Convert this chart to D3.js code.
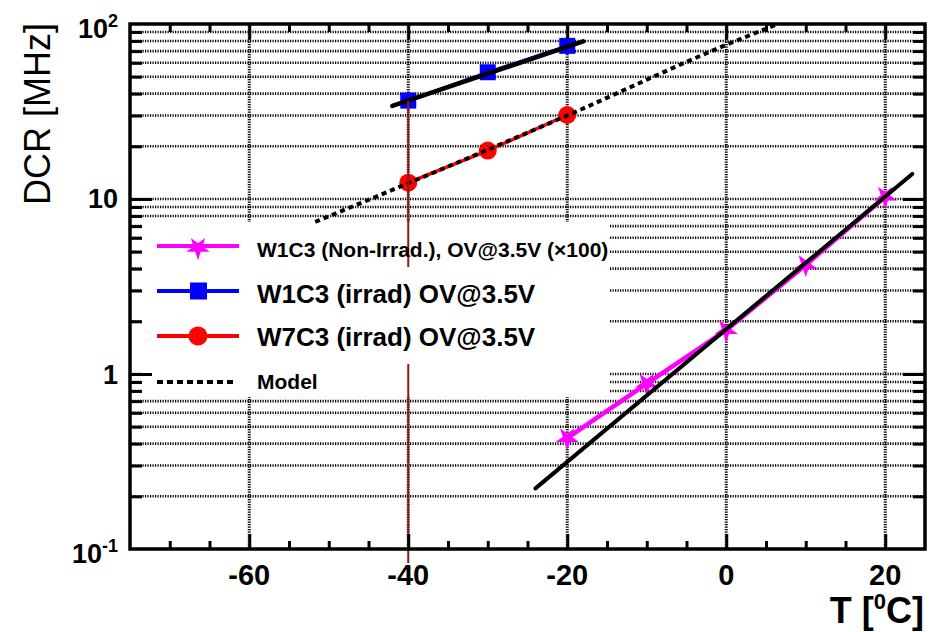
<!DOCTYPE html>
<html>
<head>
<meta charset="utf-8">
<script src="https://cdn.jsdelivr.net/npm/d3@7"></script>
<style>
  html, body { margin: 0; padding: 0; background: #fff; }
  svg { display: block; font-family: "Liberation Sans", Arial, Helvetica, sans-serif; }
</style>
</head>
<body>
<svg id="chart" width="930" height="632"></svg>
<script>
// ---------------- data ----------------
const tempIrrad = [-40, -30, -20];
const dcrW1C3Irrad = [36.5, 53, 75];
const dcrW7C3Irrad = [12.4, 18.9, 30.2];

const tempNonIrrad = [-20, -10, 0, 10, 20];
const dcrW1C3NonIrrad = [0.43, 0.88, 1.78, 4.2, 10.3];

const fitIrradT = [-42, -18];
const fitIrradV = [34, 79.5];

const fitNonIrradT = [-24, 23.4];
const fitNonIrradV = [0.222, 13.9];

const modelT = [-51.7, -40, -20, 0, 6.5];
const modelV = [7.4, 12.3, 30, 76, 100];

const markerLineT = [-40, -40];
const markerLineV = [36.5, 0.083];

const xMajorTicks = [-60, -40, -20, 0, 20];
const xMinorTicks = [-70, -65, -55, -50, -45, -35, -30, -25, -15, -10, -5, 5, 10, 15];
const yMajorTicks = [1, 10];
const yMinorTicks = [0.2,0.3,0.4,0.5,0.6,0.7,0.8,0.9, 2,3,4,5,6,7,8,9, 20,30,40,50,60,70,80,90];
const yTickLabels = [
  {v: 100, base: "10", sup: "2"},
  {v: 10, base: "10", sup: ""},
  {v: 1, base: "1", sup: ""},
  {v: 0.1, base: "10", sup: "-1"}
];
const legendItems = [
  {label: "W1C3 (Non-Irrad.), OV@3.5V (\u00d7100)", color: "#ff00ff", marker: "star", size: 21},
  {label: "W1C3 (irrad) OV@3.5V", color: "#0000ff", marker: "square", size: 26},
  {label: "W7C3 (irrad) OV@3.5V", color: "#ff0000", marker: "circle", size: 26},
  {label: "Model", color: "#000", marker: "dash", size: 21}
];

// ---------------- layout ----------------
const L = 130, R = 925, T = 24, B = 549;
const svg = d3.select("#chart");
const x = d3.scaleLinear().domain([-75, 25]).range([L, R]);
const y = d3.scaleLog().domain([0.1, 100]).range([B, T]);

svg.append("defs").append("clipPath").attr("id", "plotclip")
  .append("rect").attr("x", L).attr("y", T).attr("width", R - L).attr("height", B - T);

// ---------------- grid ----------------
const grid = svg.append("g");
grid.selectAll("line.h").data(yMinorTicks.concat(yMajorTicks)).join("line")
  .attr("x1", L).attr("x2", R)
  .attr("y1", d => y(d)).attr("y2", d => y(d))
  .attr("stroke", "#000").attr("stroke-width", 2.6).attr("stroke-dasharray", "1.2 1.3");
grid.selectAll("line.v").data(xMajorTicks).join("line")
  .attr("x1", d => x(d)).attr("x2", d => x(d))
  .attr("y1", T).attr("y2", B)
  .attr("stroke", "#000").attr("stroke-width", 3).attr("stroke-dasharray", "1.2 1.3");

// legend background (hides grid)
svg.append("rect").attr("x", 142).attr("y", 222).attr("width", 468).attr("height", 175).attr("fill", "#fff");

const plot = svg.append("g").attr("clip-path", "url(#plotclip)");
const line = d3.line().x(d => x(d[0])).y(d => y(d[1]));

// data lines
plot.append("path").datum(d3.zip(tempIrrad, dcrW1C3Irrad)).attr("d", line)
  .attr("fill", "none").attr("stroke", "#0000ff").attr("stroke-width", 3);
plot.append("path").datum(d3.zip(tempIrrad, dcrW7C3Irrad)).attr("d", line)
  .attr("fill", "none").attr("stroke", "#ff0000").attr("stroke-width", 3.5);
plot.append("path").datum(d3.zip(tempNonIrrad, dcrW1C3NonIrrad)).attr("d", line)
  .attr("fill", "none").attr("stroke", "#ff00ff").attr("stroke-width", 4.5);

// markers
const star = d3.symbol().type(d3.symbolStar).size(170);
plot.selectAll("path.star").data(d3.zip(tempNonIrrad, dcrW1C3NonIrrad)).join("path")
  .attr("d", star).attr("transform", d => `translate(${x(d[0])},${y(d[1])}) rotate(180)`)
  .attr("fill", "#ff00ff");
plot.selectAll("rect.sq").data(d3.zip(tempIrrad, dcrW1C3Irrad)).join("rect")
  .attr("x", d => x(d[0]) - 8).attr("y", d => y(d[1]) - 8)
  .attr("width", 16).attr("height", 16).attr("fill", "#0000ff");
plot.selectAll("circle.c").data(d3.zip(tempIrrad, dcrW7C3Irrad)).join("circle")
  .attr("cx", d => x(d[0])).attr("cy", d => y(d[1])).attr("r", 9).attr("fill", "#ff0000");

// vertical annotation line at -40
svg.append("path").datum(d3.zip(markerLineT, markerLineV)).attr("d", line)
  .attr("fill", "none").attr("stroke", "#8b1a12").attr("stroke-width", 2);

// fits and model
plot.append("path").datum(d3.zip(fitIrradT, fitIrradV)).attr("d", line)
  .attr("fill", "none").attr("stroke", "#000").attr("stroke-width", 4.5).attr("stroke-linecap", "round");
plot.append("path").datum(d3.zip(fitNonIrradT, fitNonIrradV)).attr("d", line)
  .attr("fill", "none").attr("stroke", "#000").attr("stroke-width", 4).attr("stroke-linecap", "round");
plot.append("path").datum(d3.zip(modelT, modelV)).attr("d", d3.line().curve(d3.curveMonotoneX).x(d => x(d[0])).y(d => y(d[1])))
  .attr("fill", "none").attr("stroke", "#000").attr("stroke-width", 4).attr("stroke-dasharray", "5 4");

// legend rows 2-3 box (covers annotation line)
svg.append("rect").attr("x", 142).attr("y", 267).attr("width", 441).attr("height", 97).attr("fill", "#fff");

// ---------------- legend ----------------
const legY = [246, 291, 336, 382];
const textBase = [257, 303, 346, 389];
const leg = svg.append("g");
legendItems.forEach((it, i) => {
  const g = leg.append("g");
  if (it.marker === "dash") {
    g.append("line").attr("x1", 157).attr("x2", 237).attr("y1", legY[i]).attr("y2", legY[i])
      .attr("stroke", "#000").attr("stroke-width", 4).attr("stroke-dasharray", "6 4");
  } else {
    g.append("line").attr("x1", 157).attr("x2", 239).attr("y1", legY[i]).attr("y2", legY[i])
      .attr("stroke", it.color).attr("stroke-width", 4);
    if (it.marker === "star") {
      g.append("path").attr("d", d3.symbol().type(d3.symbolStar).size(170)())
        .attr("transform", `translate(198,${legY[i] + 2}) rotate(180)`).attr("fill", it.color);
    } else if (it.marker === "square") {
      g.append("rect").attr("x", 190).attr("y", legY[i] - 8.5).attr("width", 17).attr("height", 17).attr("fill", it.color);
    } else {
      g.append("circle").attr("cx", 198).attr("cy", legY[i]).attr("r", 9.5).attr("fill", it.color);
    }
  }
  g.append("text").attr("x", 257).attr("y", textBase[i])
    .attr("font-size", it.size).attr("font-weight", "bold").attr("fill", "#000")
    .text(it.label);
});

// ---------------- axes ----------------
const axes = svg.append("g");
function styleAxis(g) {
  g.select(".domain").remove();
  g.selectAll(".tick line").attr("stroke", "#000").attr("stroke-width", 3);
  g.selectAll(".tick text").remove();
}
axes.append("g").attr("transform", `translate(0,${B})`)
  .call(d3.axisBottom(x).tickValues(xMajorTicks).tickSize(-15)).call(styleAxis);
axes.append("g").attr("transform", `translate(0,${B})`)
  .call(d3.axisBottom(x).tickValues(xMinorTicks).tickSize(-8)).call(styleAxis);
axes.append("g").attr("transform", `translate(0,${T})`)
  .call(d3.axisTop(x).tickValues(xMajorTicks).tickSize(-15)).call(styleAxis);
axes.append("g").attr("transform", `translate(0,${T})`)
  .call(d3.axisTop(x).tickValues(xMinorTicks).tickSize(-8)).call(styleAxis);
axes.append("g").attr("transform", `translate(${L},0)`)
  .call(d3.axisLeft(y).tickValues(yMajorTicks).tickSize(-22)).call(styleAxis);
axes.append("g").attr("transform", `translate(${L},0)`)
  .call(d3.axisLeft(y).tickValues(yMinorTicks).tickSize(-12)).call(styleAxis);
axes.append("g").attr("transform", `translate(${R},0)`)
  .call(d3.axisRight(y).tickValues(yMajorTicks).tickSize(-22)).call(styleAxis);
axes.append("g").attr("transform", `translate(${R},0)`)
  .call(d3.axisRight(y).tickValues(yMinorTicks).tickSize(-12)).call(styleAxis);

// frame
axes.append("rect").attr("x", L).attr("y", T).attr("width", R - L).attr("height", B - T)
  .attr("fill", "none").attr("stroke", "#000").attr("stroke-width", 3.5);

// x tick labels
axes.selectAll("text.xl").data(xMajorTicks).join("text")
  .attr("x", d => x(d)).attr("y", 585).attr("text-anchor", "middle")
  .attr("font-size", 29).attr("font-weight", "bold").text(d => d);

// y tick labels
const yBaseOff = {100: 14, 10: 9, 1: 10, 0.1: 14};
yTickLabels.forEach(t => {
  const tx = axes.append("text").attr("x", 118).attr("y", y(t.v) + yBaseOff[t.v])
    .attr("text-anchor", "end").attr("font-size", 27).attr("font-weight", "bold");
  tx.append("tspan").text(t.base);
  if (t.sup) tx.append("tspan").attr("font-size", 18).attr("dy", -11).text(t.sup);
});

// axis titles
const xt = svg.append("text").attr("x", 924).attr("y", 623).attr("text-anchor", "end")
  .attr("font-size", 36).attr("font-weight", "bold");
xt.append("tspan").text("T [");
xt.append("tspan").attr("font-size", 22).attr("dy", -14).text("0");
xt.append("tspan").attr("dy", 14).text("C]");

svg.append("text").attr("transform", "translate(50,23) rotate(-90)")
  .attr("text-anchor", "end").attr("font-size", 36).text("DCR [MHz]");
</script>
</body>
</html>
